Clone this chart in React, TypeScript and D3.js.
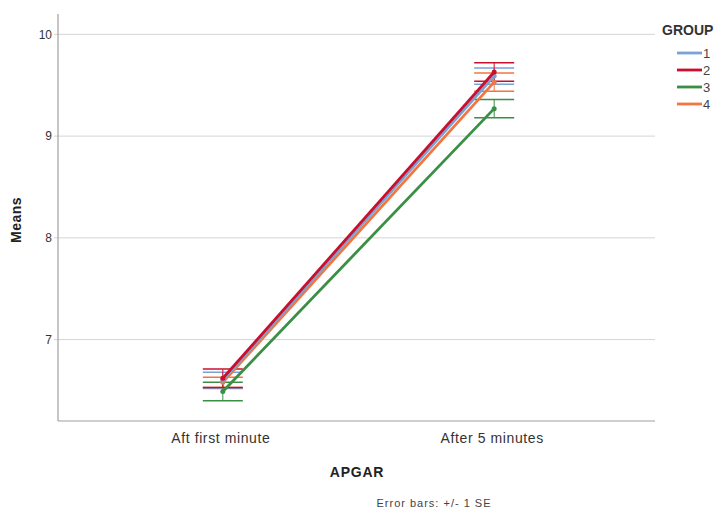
import React from "react";
import * as d3 from "d3";

const categories = ["Aft first minute", "After 5 minutes"];
const groups = ["1", "2", "3", "4"];
const colors = ["#7aa2d6", "#c8102e", "#3a8f45", "#f2763f"];
// means per group at each category
const means1 = [6.60, 9.59];
const means2 = [6.62, 9.63];
const means3 = [6.49, 9.27];
const means4 = [6.58, 9.53];
const se1 = [0.08, 0.08];
const se2 = [0.09, 0.09];
const se3 = [0.09, 0.09];
const se4 = [0.05, 0.09];
const yTicks = [7, 8, 9, 10];

const means = [means1, means2, means3, means4];
const ses = [se1, se2, se3, se4];

export default function App() {
  const W = 724, H = 510;
  const left = 58, right = 655, top = 14, bottom = 421;
  const x = d3.scalePoint<string>().domain(categories).range([left, right]).padding(0.6);
  const y = d3.scaleLinear().domain([6.2, 10.2]).range([bottom, top]);
  const line = d3.line<[string, number]>().x(d => x(d[0]) as number).y(d => y(d[1]));
  const font = "'Liberation Sans', Arial, sans-serif";
  const drawOrder = [3, 0, 2, 1];
  return (
    <svg width={W} height={H} style={{ position: "absolute", left: 0, top: 0, background: "#fff" }} fontFamily={font}>
      {yTicks.map(t => (
        <g key={t}>
          <line x1={left - 4} x2={right} y1={y(t)} y2={y(t)} stroke="#d4d4d4" strokeWidth={1} />
          <text x={left - 6} y={y(t)} dy="0.35em" textAnchor="end" fontSize={12} fill="#333">{t}</text>
        </g>
      ))}
      <line x1={left} x2={left} y1={top} y2={bottom} stroke="#a0a0a0" strokeWidth={1.2} />
      <line x1={left} x2={right} y1={bottom} y2={bottom} stroke="#a0a0a0" strokeWidth={1.2} />
      {categories.map(c => (
        <text key={c} x={x(c)} y={bottom + 22} textAnchor="middle" fontSize={14} letterSpacing={0.6} fill="#333">{c}</text>
      ))}
      {drawOrder.map(gi => (
        <g key={gi}>
          {categories.map((c, ci) => {
            const cx = (x(c) as number) + 2;
            const m = means[gi][ci], s = ses[gi][ci];
            return (
              <g key={c}>
                <line x1={cx} x2={cx} y1={y(m - s)} y2={y(m + s)} stroke={colors[gi]} strokeWidth={1} />
                <line x1={cx - 20} x2={cx + 20} y1={y(m - s)} y2={y(m - s)} stroke={colors[gi]} strokeWidth={1.5} />
                <line x1={cx - 20} x2={cx + 20} y1={y(m + s)} y2={y(m + s)} stroke={colors[gi]} strokeWidth={1.5} />
              </g>
            );
          })}
        </g>
      ))}
      {drawOrder.map(gi => (
        <g key={"l" + gi}>
          <path d={line(categories.map((c, ci) => [c, means[gi][ci]] as [string, number])) || ""}
            transform="translate(2,0)" fill="none" stroke={colors[gi]} strokeWidth={2.8} />
          {categories.map((c, ci) => (
            <circle key={c} cx={(x(c) as number) + 2} cy={y(means[gi][ci])} r={2.5} fill={colors[gi]} />
          ))}
        </g>
      ))}
      <text transform={`translate(21,220) rotate(-90)`} textAnchor="middle" fontSize={14} fontWeight="bold" letterSpacing={0.5} fill="#222">Means</text>
      <text x={357} y={477} textAnchor="middle" fontSize={14} fontWeight="bold" letterSpacing={0.8} fill="#222">APGAR</text>
      <text x={434} y={507} textAnchor="middle" fontSize={11} letterSpacing={1} fill="#444">Error bars: +/- 1 SE</text>
      <text x={662} y={35} fontSize={14} fontWeight="bold" fill="#333">GROUP</text>
      {groups.map((g, i) => (
        <g key={g}>
          <line x1={677} x2={702} y1={53 + i * 17} y2={53 + i * 17} stroke={colors[i]} strokeWidth={2.8} />
          <text x={703} y={53 + i * 17} dy="0.35em" fontSize={13} fill="#444">{g}</text>
        </g>
      ))}
    </svg>
  );
}
